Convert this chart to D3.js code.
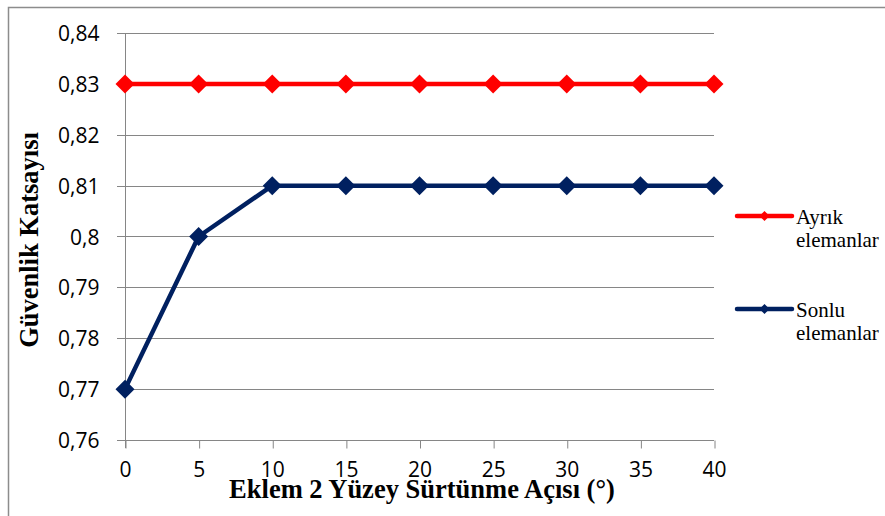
<!DOCTYPE html>
<html>
<head>
<meta charset="utf-8">
<style>
     body {
          margin: 0;
          background: white;
     }
     .tick text {
          font-family: "Open Sans", sans-serif;
          font-size: 21px;
          fill: #000;
     }
     .axis path {
          display: none;
     }
     .axis line {
          stroke: #868686;
     }
     .grid line {
          stroke: #868686;
     }
     .axis-title {
          font-family: "Liberation Serif", "Times New Roman", serif;
          font-weight: bold;
          font-size: 26.5px;
          text-anchor: middle;
     }
     .legend-label {
          font-family: "Liberation Serif", "Times New Roman", serif;
          font-size: 21px;
     }
</style>
</head>
<body>
<script src="https://d3js.org/d3.v7.min.js"></script>
<script>

     var angles = [0, 5, 10, 15, 20, 25, 30, 35, 40];
     var ayrik = [0.83, 0.83, 0.83, 0.83, 0.83, 0.83, 0.83, 0.83, 0.83];
     var sonlu = [0.77, 0.80, 0.81, 0.81, 0.81, 0.81, 0.81, 0.81, 0.81];
     var yTicks = [0.76, 0.77, 0.78, 0.79, 0.80, 0.81, 0.82, 0.83, 0.84];
     var seriesNames = [["Ayrık", "elemanlar"], ["Sonlu", "elemanlar"]];
     var seriesColors = ["#ff0000", "#002060"];

     var W = 885, H = 516;
     var plotLeft = 125, plotRight = 714, plotTop = 33, plotBottom = 440;

     var svg = d3.select("body").append("svg")
          .attr("width", W)
          .attr("height", H);

     // outer frame (only top and left edges visible)
     svg.append("path")
          .attr("d", "M8.5," + H + "V7.5H" + W)
          .attr("fill", "none")
          .attr("stroke", "#8c8c8c")
          .attr("stroke-width", 1.5);

     var x = d3.scaleLinear().domain([0, 40]).range([plotLeft, plotRight]);
     var y = d3.scaleLinear().domain([0.76, 0.84]).range([plotBottom, plotTop]);

     var fmt = function(d) {
          return d3.format(".2f")(d).replace(/0$/, "").replace(".", ",");
     };

     // horizontal grid
     svg.append("g")
          .attr("class", "grid")
          .selectAll("line").data(yTicks)
       .enter().append("line")
          .attr("x1", plotLeft - 8)
          .attr("x2", plotRight)
          .attr("y1", function(d) { return Math.round(y(d)) + 0.5; })
          .attr("y2", function(d) { return Math.round(y(d)) + 0.5; });

     svg.append("g")
          .attr("class", "y axis")
          .attr("transform", "translate(" + (plotLeft + 0.5) + ",0)")
          .call(d3.axisLeft(y).tickValues(yTicks).tickFormat(fmt).tickSize(0).tickPadding(26))
          .call(function(g) {
               g.selectAll(".tick text").attr("dy", "0.36em");
          });

     // vertical axis line
     svg.append("line")
          .attr("x1", plotLeft + 0.5).attr("x2", plotLeft + 0.5)
          .attr("y1", plotTop).attr("y2", plotBottom + 8)
          .attr("stroke", "#868686");

     svg.append("g")
          .attr("class", "x axis")
          .attr("transform", "translate(0," + (plotBottom + 0.5) + ")")
          .call(d3.axisBottom(x).tickValues(angles).tickSize(8).tickPadding(14))
          .call(function(g) {
               g.selectAll(".tick line").attr("transform", "translate(0.5,0)");
          });

     var diamond = function(r) {
          return "M0," + (-r) + "L" + r + ",0L0," + r + "L" + (-r) + ",0Z";
     };

     var line = d3.line()
          .x(function(d, i) { return x(angles[i]); })
          .y(function(d) { return y(d); });

     [ayrik, sonlu].forEach(function(values, k) {
          svg.append("path")
               .datum(values)
               .attr("d", line)
               .attr("fill", "none")
               .attr("stroke", seriesColors[k])
               .attr("stroke-width", 4.5)
               .attr("stroke-linejoin", "round");

          svg.append("g").selectAll("path").data(values)
            .enter().append("path")
               .attr("d", diamond(9.5))
               .attr("fill", seriesColors[k])
               .attr("transform", function(d, i) {
                    return "translate(" + x(angles[i]) + "," + y(d) + ")";
               });
     });

     // legend
     var legend = svg.append("g").selectAll("g").data(seriesNames)
       .enter().append("g")
          .attr("transform", function(d, i) { return "translate(737," + (216 + i * 93) + ")"; });

     legend.append("line")
          .attr("x1", 0).attr("x2", 55)
          .attr("stroke", function(d, i) { return seriesColors[i]; })
          .attr("stroke-width", 4.5)
          .attr("stroke-linecap", "round");

     legend.append("path")
          .attr("d", diamond(5))
          .attr("transform", "translate(27.5,0)")
          .attr("fill", function(d, i) { return seriesColors[i]; });

     legend.append("text")
          .attr("class", "legend-label")
          .attr("x", 59)
          .attr("y", 8)
          .selectAll("tspan").data(function(d) { return d; })
       .enter().append("tspan")
          .attr("x", 59)
          .attr("dy", function(d, i) { return i == 0 ? 0 : 23; })
          .text(function(d) { return d; });

     svg.append("text")
          .attr("class", "axis-title")
          .attr("x", 422)
          .attr("y", 498)
          .text("Eklem 2 Yüzey Sürtünme Açısı (°)");

     svg.append("text")
          .attr("class", "axis-title")
          .attr("transform", "translate(38,240) rotate(-90)")
          .text("Güvenlik Katsayısı");

</script>
</body>
</html>
